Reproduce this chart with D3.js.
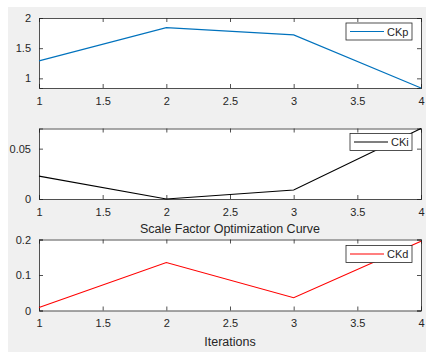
<!DOCTYPE html>
<html>
<head>
<meta charset="utf-8">
<script src="https://cdn.jsdelivr.net/npm/d3@7"></script>
<style>
  body { margin: 0; background: #fff; }
  svg { display: block; font-family: "Liberation Sans", Arial, sans-serif; }
</style>
</head>
<body>
<div id="grafico"></div>
<script>
const iterations = [1, 2, 3, 4];
const ckp = [1.29, 1.84, 1.72, 0.84];
const cki = [0.0227, 0.0, 0.0089, 0.07];
const ckd = [0.0086, 0.135, 0.036, 0.195];

const xTicks = [1, 1.5, 2, 2.5, 3, 3.5, 4];

const width = 426;
const height = 352;

const svg = d3
  .select("#grafico")
  .append("svg")
  .attr("width", width)
  .attr("height", height);

// fondo gris tipo figura
svg
  .append("rect")
  .attr("x", 8)
  .attr("y", 7)
  .attr("width", width - 8)
  .attr("height", height - 7)
  .attr("fill", "#f0f0f0");

const left = 39;
const right = 421;

const x = d3.scaleLinear().domain([1, 4]).range([left, right]);

const paneles = [
  { datos: ckp, nombre: "CKp", color: "#0072bd", top: 18, bottom: 88, dominio: [0.84, 2], ticks: [1, 1.5, 2], leyenda: [346, 23, 66, 17] },
  { datos: cki, nombre: "CKi", color: "#000000", top: 128.5, bottom: 199, dominio: [0, 0.07], ticks: [0, 0.05], leyenda: [350, 133.5, 62, 17] },
  { datos: ckd, nombre: "CKd", color: "#ff0000", top: 239.5, bottom: 310.5, dominio: [0, 0.2], ticks: [0, 0.1, 0.2], leyenda: [346, 245.5, 66, 17] },
];

const ejeColor = "#262626";

paneles.forEach((p) => {
  const y = d3.scaleLinear().domain(p.dominio).range([p.bottom, p.top]);
  const g = svg.append("g");

  g.append("rect")
    .attr("x", left)
    .attr("y", p.top)
    .attr("width", right - left)
    .attr("height", p.bottom - p.top)
    .attr("fill", "white");

  // ejes con ticks hacia adentro
  const ejeX = g
    .append("g")
    .attr("transform", `translate(0, ${p.bottom})`)
    .call(d3.axisBottom(x).tickValues(xTicks).tickSize(-4).tickPadding(9).tickFormat(d3.format("")));
  const ejeXTop = g
    .append("g")
    .attr("transform", `translate(0, ${p.top})`)
    .call(d3.axisTop(x).tickValues(xTicks).tickSize(-4).tickFormat(""));
  const ejeY = g
    .append("g")
    .attr("transform", `translate(${left}, 0)`)
    .call(d3.axisLeft(y).tickValues(p.ticks).tickSize(-4).tickPadding(8).tickFormat(d3.format("")));
  const ejeYRight = g
    .append("g")
    .attr("transform", `translate(${right}, 0)`)
    .call(d3.axisRight(y).tickValues(p.ticks).tickSize(-4).tickFormat(""));

  [ejeX, ejeXTop, ejeY, ejeYRight].forEach((e) => {
    e.select(".domain").attr("stroke", ejeColor).attr("stroke-width", 0.8);
    e.selectAll(".tick line").attr("stroke", ejeColor).attr("stroke-width", 0.8);
    e.selectAll("text").attr("fill", ejeColor).style("font-size", "11px");
  });

  const linea = d3
    .line()
    .x((d, i) => x(iterations[i]))
    .y((d) => y(d));

  g.append("path")
    .datum(p.datos)
    .attr("d", linea)
    .attr("fill", "none")
    .attr("stroke", p.color)
    .attr("stroke-width", 1.1);

  // leyenda
  const [lx, ly, lw, lh] = p.leyenda;
  const ley = g.append("g");
  ley
    .append("rect")
    .attr("x", lx)
    .attr("y", ly)
    .attr("width", lw)
    .attr("height", lh)
    .attr("fill", "white")
    .attr("stroke", ejeColor)
    .attr("stroke-width", 0.8);
  ley
    .append("line")
    .attr("x1", lx + 4)
    .attr("x2", lx + 38)
    .attr("y1", ly + lh / 2)
    .attr("y2", ly + lh / 2)
    .attr("stroke", p.color)
    .attr("stroke-width", 1.1);
  ley
    .append("text")
    .attr("x", lx + 41)
    .attr("y", ly + lh / 2 + 4)
    .attr("fill", ejeColor)
    .style("font-size", "11px")
    .text(p.nombre);
});

svg
  .append("text")
  .attr("x", (left + right) / 2)
  .attr("y", 233)
  .attr("text-anchor", "middle")
  .attr("fill", ejeColor)
  .style("font-size", "12.5px")
  .text("Scale Factor Optimization Curve");

svg
  .append("text")
  .attr("x", (left + right) / 2)
  .attr("y", 346)
  .attr("text-anchor", "middle")
  .attr("fill", ejeColor)
  .style("font-size", "12.5px")
  .text("Iterations");
</script>
</body>
</html>
